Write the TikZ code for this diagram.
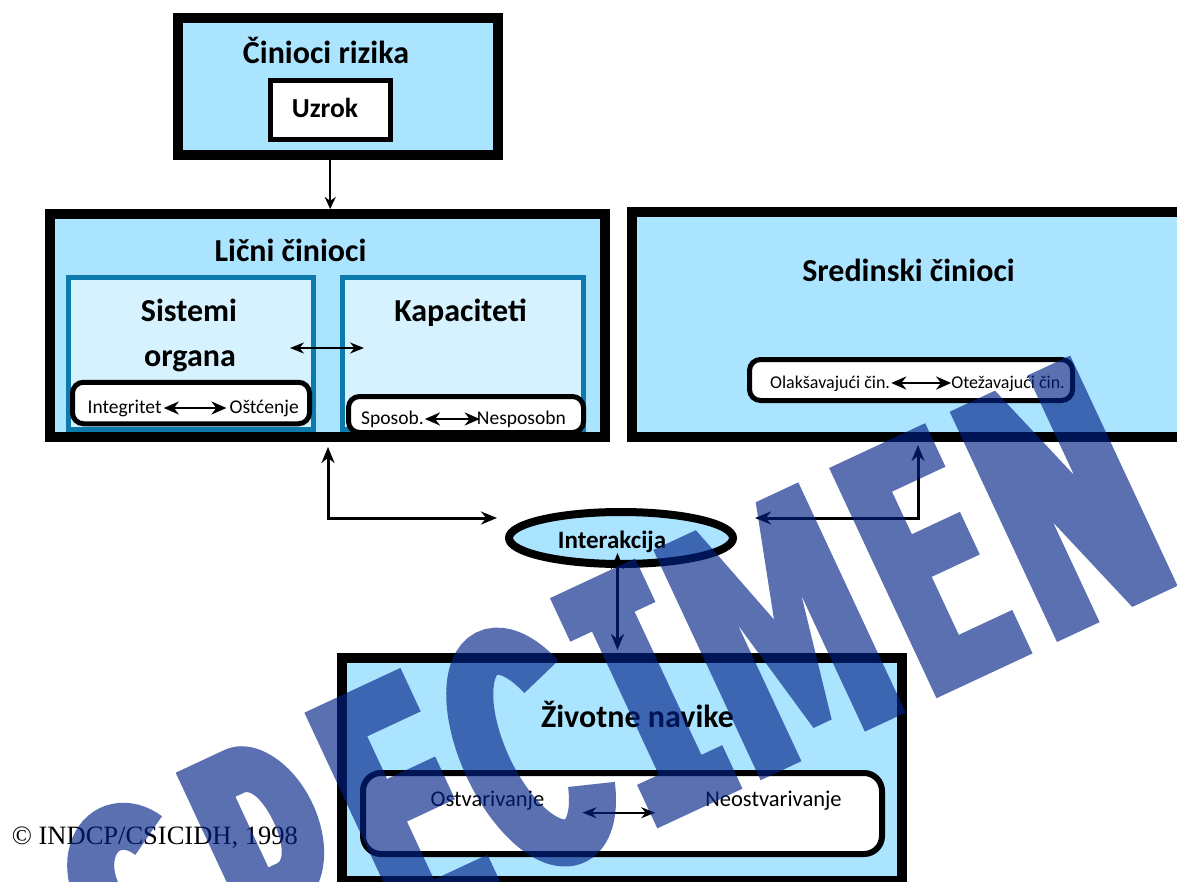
\documentclass[tikz,border=0pt]{standalone}
\usepackage{fontspec}
\setmainfont{Carlito}
\newfontfamily\timesf{Liberation Serif}
\usetikzlibrary{arrows.meta,shapes.geometric,calc}
\definecolor{boxblue}{RGB}{170,228,255}
\definecolor{innerblue}{RGB}{213,242,254}
\definecolor{tealb}{RGB}{12,122,172}
\definecolor{wmblue}{RGB}{0,33,134}
\tikzset{
  bigbox/.style={rectangle, draw=black, line width=10pt, fill=boxblue, inner sep=0pt},
  innerbox/.style={rectangle, draw=tealb, line width=5pt, fill=innerblue, inner sep=0pt},
  whitebox/.style={rectangle, draw=black, line width=5pt, fill=white, inner sep=0pt},
  pill/.style={rectangle, draw=black, line width=5pt, fill=white, rounded corners=11pt, inner sep=0pt},
  titletxt/.style={font=\bfseries\fontsize{32}{38}\selectfont, inner sep=0pt, anchor=base},
  smalltxt/.style={font=\fontsize{19.5}{23}\selectfont, inner sep=0pt},
  olaktxt/.style={font=\fontsize{18}{22}\selectfont, inner sep=0pt},
  midtxt/.style={font=\fontsize{22.5}{27}\selectfont, inner sep=0pt, anchor=base},
  dbl/.style={{Stealth[length=15pt,width=13pt]}-{Stealth[length=15pt,width=13pt]}, line width=2.5pt},
  dblthin/.style={{Stealth[length=14pt,width=11pt]}-{Stealth[length=14pt,width=11pt]}, line width=2pt},
  dblconn/.style={{Stealth[length=16pt,width=13pt]}-{Stealth[length=16pt,width=13pt]}, line width=3pt},
  conn/.style={-{Stealth[length=12pt,width=11pt]}, line width=2.5pt},
  wmfill/.style={fill=wmblue, fill opacity=0.643, even odd rule},
  wmstroke/.style={draw=wmblue, draw opacity=0.643, line width=47pt, line cap=butt}
}
\begin{document}
\begin{tikzpicture}[x=1pt, y=-1pt]
\useasboundingbox (0,0) rectangle (1177,882);
\fill[white] (0,0) rectangle (1177,882);
\clip (0,0) rectangle (1177,882);

% Cinioci rizika
\node[bigbox, minimum width=320pt, minimum height=137pt] (rizik) at (338,86.5) {};
\node[titletxt] (rizikt) at (326,63.3) {Činioci rizika};
\node[whitebox, minimum width=120pt, minimum height=59.6pt] (uzrok) at (330.2,110) {};
\node[titletxt, font=\bfseries\fontsize{27.5}{32}\selectfont] (uzrokt) at (325,117.3) {Uzrok};

% Licni cinioci
\node[bigbox, minimum width=555pt, minimum height=223pt] (licni) at (327.5,325.5) {};
\node[titletxt] (licnit) at (290.5,261.7) {Lični činioci};
\node[innerbox, minimum width=245pt, minimum height=152pt] (sist) at (191,353.5) {};
\node[innerbox, minimum width=241pt, minimum height=152pt] (kap) at (463,353.5) {};
\node[titletxt] (sistt) at (189,321.7) {Sistemi};
\node[titletxt] (orgt) at (190,366.7) {organa};
\node[titletxt] (kapt) at (460.5,321.7) {Kapaciteti};
\draw[dblthin] ($(sist.east)+(-26,-5.5)$) -- ($(kap.west)+(24,-5.5)$);

\node[pill, minimum width=237pt, minimum height=41.5pt] (integbox) at (191,403) {};
\node[smalltxt, anchor=base west] (integ) at (87.5,413) {Integritet};
\node[smalltxt, anchor=base east] (ostc) at (299,413) {Oštćenje};
\draw[dbl] ($(integ.base east)+(2,-5)$) -- ($(ostc.base west)+(-3,-5)$);

\node[pill, minimum width=235pt, minimum height=36pt] (sposbox) at (466,414.5) {};
\node[smalltxt, anchor=base west] (spos) at (361,424) {Sposob.};
\node[smalltxt, anchor=base east] (nesp) at (566,424) {Nesposobn};
\draw[dbl] ($(spos.base east)+(1,-5)$) -- ($(nesp.base west)+(3,-5)$);

% Sredinski cinioci
\node[bigbox, minimum width=558pt, minimum height=225pt] (sred) at (911,324.5) {};
\node[titletxt] (sredt) at (908.5,281.7) {Sredinski činioci};
\node[pill, minimum width=323pt, minimum height=41pt] (olakbox) at (911,380) {};
\node[olaktxt, anchor=base west] (olak) at (770,388) {Olakšavajući čin.};
\node[olaktxt, anchor=base east] (otez) at (1065,388) {Otežavajući čin.};
\draw[dbl] ($(olak.base east)+(1,-5)$) -- ($(otez.base west)+(0,-5)$);

% Interakcija
\node[ellipse, draw=black, line width=8pt, fill=boxblue, minimum width=224pt, minimum height=52pt, inner sep=0pt] (inter) at (621,538) {};
\node[titletxt, font=\bfseries\fontsize{25}{30}\selectfont] (intert) at (612,548.3) {Interakcija};

% Zivotne navike
\node[bigbox, minimum width=560pt, minimum height=223pt] (zivot) at (622,769.5) {};
\node[titletxt] (zivt) at (637.5,727) {Životne navike};
\node[pill, line width=6pt, rounded corners=18pt, minimum width=519pt, minimum height=81pt] (ostvbox) at (622.5,813.5) {};
\node[midtxt] (ostv) at (487.5,806.7) {Ostvarivanje};
\node[midtxt] (neostv) at (773.5,806.7) {Neostvarivanje};
\draw[dblthin] ($(ostv.base east)+(38,6)$) -- ($(neostv.base west)+(-50,6)$);

% copyright
\node[font=\timesf\fontsize{26.5}{30}\selectfont, anchor=base west, inner sep=0pt] (copy) at (11.7,844) {© INDCP/CSICIDH, 1998};

% connectors
\draw[conn] (uzrok.south |- rizik.south) -- (uzrok.south |- licni.north);
\coordinate (lend) at (497,518);
\draw[dblconn] ($(licni.south)+(0.5,5)$) |- (lend);
\coordinate (rc) at (918,518);
\coordinate (rend) at (755,518);
\draw[dblconn] ($(rc |- sred.south)+(0,3)$) -- (rc) -- (rend);
\draw[dblconn] ($(inter.south)+(-3.5,-15)$) -- ($(zivot.north)+(-4.5,-3)$);

% watermark
\begin{scope}[shift={(1057,642)}, rotate=25, y=1pt]
\fill[wmfill]
  (-854,0) -- (-810,0) -- (-810,82) -- (-800,82) arc[start angle=-90,end angle=90,x radius=57,y radius=86] -- (-854,254) -- cycle
  (-810,129) -- (-810,207) -- (-800,207) arc[start angle=90,end angle=-90,x radius=14,y radius=39] -- cycle
  (-712,0) -- (-606,0) -- (-606,48) -- (-665,48) -- (-665,112) -- (-612,112) -- (-612,159) -- (-665,159) -- (-665,206) -- (-606,206) -- (-606,254) -- (-712,254) -- cycle
  (-441,0) -- (-347,0) -- (-347,48) -- (-370,48) -- (-370,206) -- (-347,206) -- (-347,254) -- (-441,254) -- (-441,206) -- (-417,206) -- (-417,48) -- (-441,48) -- cycle
  (-327,0) -- (-282,0) -- (-282,150) -- (-257,25) -- (-237,25) -- (-212,150) -- (-212,0) -- (-167,0) -- (-167,254) -- (-214,254) -- (-247,140) -- (-280,254) -- (-327,254) -- cycle
  (-133,0) -- (-27,0) -- (-27,48) -- (-86,48) -- (-86,112) -- (-33,112) -- (-33,159) -- (-86,159) -- (-86,206) -- (-27,206) -- (-27,254) -- (-133,254) -- cycle
  (0,0) -- (47,0) -- (47,110) -- (83,0) -- (133,0) -- (133,254) -- (86,254) -- (86,144) -- (50,254) -- (0,254) -- cycle;
\draw[wmstroke] (-905.05,208.43) arc[start angle=35,end angle=270,x radius=39,y radius=51.75]
  arc[start angle=90,end angle=-145,x radius=39,y radius=51.75];
\draw[wmstroke] (-482.1,186.4) arc[start angle=35,end angle=325,x radius=47.5,y radius=103.5];
\end{scope}
\end{tikzpicture}
\end{document}
